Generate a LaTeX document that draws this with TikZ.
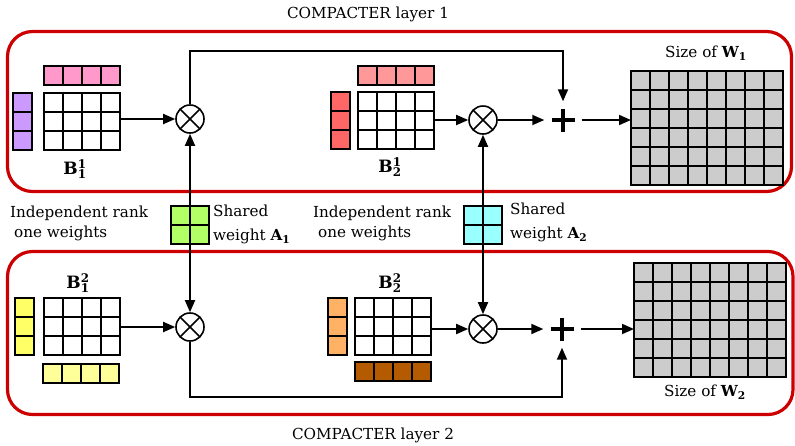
\documentclass[tikz,border=0pt]{standalone}
\usepackage{fix-cm}
\usepackage{fontspec}
\setmainfont{DejaVu Serif}
\usetikzlibrary{arrows.meta}
\definecolor{cpurple}{RGB}{204,153,255}
\definecolor{cpink}{RGB}{255,153,204}
\definecolor{csalmon}{RGB}{255,153,153}
\definecolor{cred}{RGB}{255,102,102}
\definecolor{cyellow}{RGB}{255,255,102}
\definecolor{clyellow}{RGB}{255,255,153}
\definecolor{corange}{RGB}{255,178,102}
\definecolor{cbrown}{RGB}{180,90,0}
\definecolor{cgreen}{RGB}{178,255,102}
\definecolor{ccyan}{RGB}{153,255,255}
\definecolor{cgrey}{RGB}{204,204,204}
\definecolor{boxred}{RGB}{204,0,0}
\tikzset{
  cellline/.style={draw=black, line width=1.8pt},
  arr/.style={line width=1.8pt, -{Triangle[length=12pt,width=10pt]}},
  layerbox/.style={draw=boxred, line width=3.2pt, rounded corners=25pt},
  otimes/.style={circle, draw, line width=1.6pt, minimum size=28pt, inner sep=0pt, fill=white,
    path picture={\draw[line width=1.6pt] (path picture bounding box.north west) -- (path picture bounding box.south east)
      (path picture bounding box.north east) -- (path picture bounding box.south west);}},
  plusnode/.style={rectangle, minimum size=37pt, inner sep=0pt,
    path picture={\draw[line width=4pt] ([xshift=-11.5pt]path picture bounding box.center) -- ([xshift=11.5pt]path picture bounding box.center)
      ([yshift=-11.5pt]path picture bounding box.center) -- ([yshift=11.5pt]path picture bounding box.center);}},
  lbl/.style={font=\fontsize{15.2}{20}\selectfont, inner sep=0pt},
  mlbl/.style={font=\fontsize{17}{19}\selectfont, inner sep=0pt}
}
\newcommand\cellgrid[6]{%
  \foreach \i in {1,...,#4}{\foreach \j in {1,...,#5}{%
    \draw[cellline, fill=#6] ({#2+(\i-1)*19},{#3+(\j-1)*19}) rectangle ++(19,19);}}
  \node[inner sep=0pt, outer sep=0pt, minimum width={#4*19pt}, minimum height={#5*19pt}, anchor=north west] (#1) at (#2,#3) {};
}
\begin{document}
\begin{tikzpicture}[x=1pt,y=-1pt]
\useasboundingbox (0,0) rectangle (795,445);
% layer boxes
\draw[layerbox] (7.5,31.5) rectangle (791.5,191.5);
\draw[layerbox] (7.5,251.5) rectangle (793,414.5);
% titles
\node[lbl] (title1) at (368,14) {COMPACTER layer 1};
\node[lbl] (title2) at (373,435) {COMPACTER layer 2};
% layer 1 grids
\cellgrid{P11}{13}{93}{1}{3}{cpurple}
\cellgrid{R11}{44}{66}{4}{1}{cpink}
\cellgrid{B11}{44}{93}{4}{3}{white}
\cellgrid{C21}{331}{92}{1}{3}{cred}
\cellgrid{R21}{358}{66}{4}{1}{csalmon}
\cellgrid{B21}{358}{92}{4}{3}{white}
\cellgrid{W1}{631}{71}{8}{6}{cgrey}
% layer 2 grids
\cellgrid{P12}{15}{298}{1}{3}{cyellow}
\cellgrid{B12}{44}{298}{4}{3}{white}
\cellgrid{R12}{43}{364}{4}{1}{clyellow}
\cellgrid{C22}{328}{298}{1}{3}{corange}
\cellgrid{B22}{355}{298}{4}{3}{white}
\cellgrid{R22}{355}{362}{4}{1}{cbrown}
\cellgrid{W2}{634}{263}{8}{6}{cgrey}
% operators
\node[otimes] (ot11) at (190,119) {};
\node[otimes] (ot21) at (483,120) {};
\node[otimes] (ot12) at (190,327) {};
\node[otimes] (ot22) at (483,329) {};
\node[plusnode] (plus1) at (563,120) {};
\node[plusnode] (plus2) at (562,329) {};
% labels
\node[mlbl] (lB11) at (75,169) {$\mathbf{B}^{\mathbf{1}}_{\mathbf{1}}$};
\node[mlbl] (lB21) at (390,167) {$\mathbf{B}^{\mathbf{1}}_{\mathbf{2}}$};
\node[mlbl] (lB12) at (78,283) {$\mathbf{B}^{\mathbf{2}}_{\mathbf{1}}$};
\node[mlbl] (lB22) at (390,283) {$\mathbf{B}^{\mathbf{2}}_{\mathbf{2}}$};
\node[lbl] (lW1) at (706,53) {Size of $\mathbf{W}_{\mathbf{1}}$};
\node[lbl] (lW2) at (705,392) {Size of $\mathbf{W}_{\mathbf{2}}$};
% middle texts
\node[lbl, align=left, anchor=north west] (ind1) at (10,206) {Independent rank\\[-0.5pt]\hspace{4pt}one weights};
\node[lbl, align=left, anchor=north west] (ind2) at (313,206) {Independent rank\\[-0.5pt]\hspace{5pt}one weights};
\node[lbl, align=left, anchor=north west] (sh1) at (213,205) {Shared\\[4pt]weight $\mathbf{A}_{\mathbf{1}}$};
\node[lbl, align=left, anchor=north west] (sh2) at (510,203) {Shared\\[4pt]weight $\mathbf{A}_{\mathbf{2}}$};
% connectors layer 1
\coordinate (t1) at (190,51);
\draw[arr] (ot11 -| B11.east) -- (ot11.west);
\draw[arr] (ot11.north) -- (t1) -| (plus1.north);
\draw[arr] (ot21 -| B21.east) -- (ot21.west);
\draw[arr] (ot21.east) -- (plus1.west);
\draw[arr] (plus1.east) -- (plus1 -| W1.west);
% connectors layer 2
\coordinate (t2) at (190,397);
\draw[arr] (ot12 -| B12.east) -- (ot12.west);
\draw[arr] (ot12.south) -- (t2) -| (plus2.south);
\draw[arr] (ot22 -| B22.east) -- (ot22.west);
\draw[arr] (ot22.east) -- (plus2.west);
\draw[arr] (plus2.east) -- (plus2 -| W2.west);
% shared weights
\cellgrid{A1}{171}{206}{2}{2}{cgreen}
\cellgrid{A2}{464}{206}{2}{2}{ccyan}
\draw[arr] (A1.center) -- (ot11.south);
\draw[arr] (A1.center) -- (ot12.north);
\draw[arr] (A2.center) -- (ot21.south);
\draw[arr] (A2.center) -- (ot22.north);
\end{tikzpicture}
\end{document}
